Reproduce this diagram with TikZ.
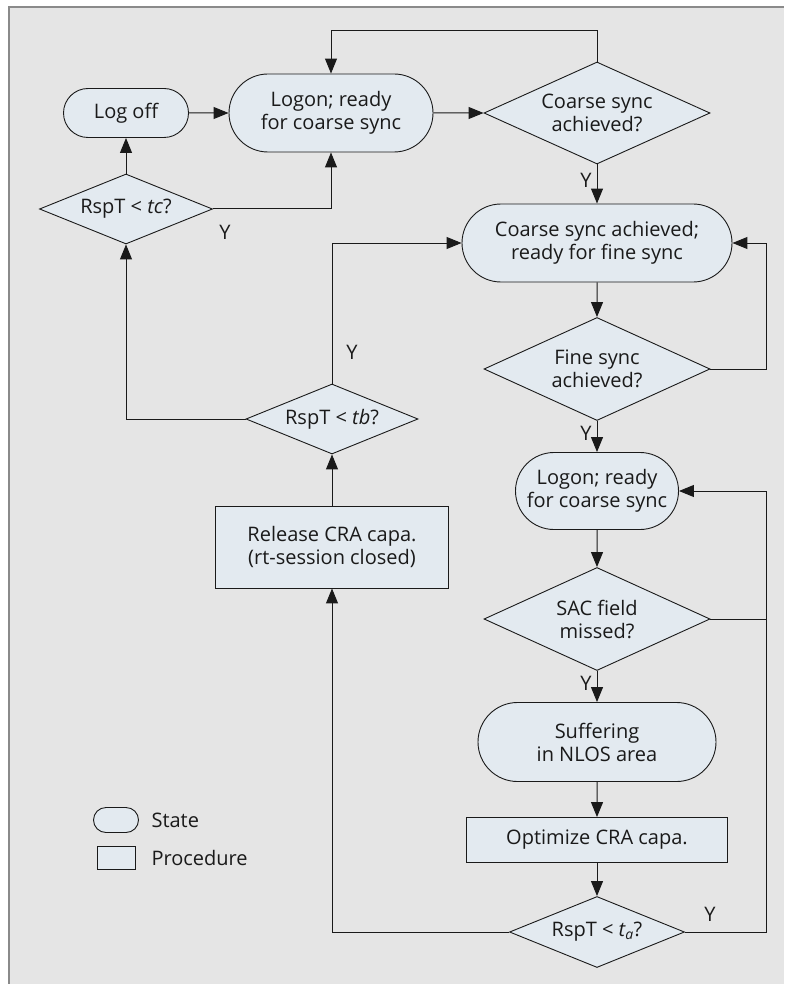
\documentclass[tikz,border=0pt]{standalone}
\usepackage{fontspec}
\setmainfont{Open Sans}
\usepackage{tikz}
\usetikzlibrary{arrows.meta,positioning,shapes.geometric,shapes.misc,calc}
\definecolor{panelgray}{HTML}{E5E5E5}
\definecolor{framegray}{HTML}{8A8A8A}
\definecolor{nodefill}{HTML}{E3EAF0}
\definecolor{inkgray}{HTML}{1A1A1A}
\tikzset{
  statebox/.style={rounded rectangle, draw=inkgray, fill=nodefill, line width=0.9pt, align=center, inner sep=0pt},
  procbox/.style={rectangle, draw=inkgray, fill=nodefill, line width=0.9pt, align=center, inner sep=0pt},
  decbox/.style={diamond, draw=inkgray, fill=nodefill, line width=0.9pt, align=center, inner sep=0pt, aspect=2.2},
  flow/.style={-{Triangle[length=15pt,width=12pt]}, line width=1pt, draw=inkgray},
  link/.style={line width=1pt, draw=inkgray},
  ylab/.style={text=inkgray, inner sep=0pt}
}

\begin{document}
\begin{tikzpicture}[x=1pt, y=-1pt, font=\fontsize{20}{23}\selectfont, text=inkgray]
  \useasboundingbox (0,0) rectangle (784,984);
  % Panel
  \fill[white] (0,0) rectangle (784,984);
  \fill[panelgray] (8,7) rectangle (784,984);
  \draw[framegray, line width=2pt] (8.5,984) -- (8.5,7.5) -- (784,7.5);

  % States and procedures
  \node[statebox, minimum width=125, minimum height=49] (logoff) at (126,113) {Log off};
  \node[statebox, minimum width=204, minimum height=78] (logon1) at (331,113) {Logon; ready\\for coarse sync};
  \node[decbox, minimum width=226, minimum height=102] (coarse) at (597,113) {Coarse sync\\achieved?};
  \node[decbox, aspect=2.5, minimum width=173, minimum height=70] (tc) at (126,209) {RspT < \textit{tc}?};
  \node[statebox, minimum width=270, minimum height=78] (cdone) at (597,243) {Coarse sync achieved;\\ready for fine sync};
  \node[decbox, minimum width=226, minimum height=103] (fine) at (597,369) {Fine sync\\achieved?};
  \node[decbox, aspect=2.5, minimum width=172, minimum height=70] (tb) at (332,419) {RspT < \textit{tb}?};
  \node[statebox, minimum width=163, minimum height=77] (logon2) at (597,491) {Logon; ready\\for coarse sync};
  \node[procbox, minimum width=233, minimum height=82] (release) at (332,547) {Release CRA capa.\\(rt-session closed)};
  \node[decbox, minimum width=226, minimum height=103] (sac) at (597,619) {SAC field\\missed?};
  \node[statebox, minimum width=238, minimum height=79] (nlos) at (597,742) {Suffering\\in NLOS area};
  \node[procbox, minimum width=261, minimum height=45] (optim) at (597,840) {Optimize CRA capa.};
  \node[decbox, aspect=2.5, minimum width=175, minimum height=71] (ta) at (597,932) {RspT < \textit{t\textsubscript{a}}?};

  % Connectors
  \coordinate (topbend) at (331,31);
  \coordinate (rightbend) at (766,932);
  \draw[flow] (logoff) -- (logon1);
  \draw[flow] (logon1) -- (coarse);
  \draw[flow] (coarse.north) |- (topbend) -- (logon1.north);
  \draw[flow] (coarse) -- node[ylab, left=5pt, pos=0.4] {Y} (cdone);
  \draw[flow] (tc) -- (logoff);
  \draw[flow] (tc.east) -| (logon1.south);
  \node[ylab] (ytc) at (225,232) {Y};
  \draw[flow] (cdone) -- (fine);
  \draw[flow] (fine.east) -- (fine.east -| rightbend) |- (cdone.east);
  \draw[flow] (fine) -- node[ylab, left=5pt, pos=0.4] {Y} (logon2);
  \draw[flow] (logon2) -- (sac);
  \draw[link] (sac.east) -- (sac.east -| rightbend);
  \draw[flow] (sac) -- node[ylab, left=5pt, pos=0.4] {Y} (nlos);
  \draw[flow] (nlos) -- (optim);
  \draw[flow] (optim) -- (ta);
  \draw[flow] (ta.east) -- (rightbend) |- (logon2.east);
  \node[ylab] (yta) at (710,914) {Y};
  \draw[flow] (ta.west) -| (release.south);
  \draw[flow] (release) -- (tb);
  \draw[flow] (tb.west) -| (tc.south);
  \draw[flow] (tb.north) |- (cdone.west);
  \node[ylab] (ytb) at (352,352) {Y};

  % Legend
  \node[statebox, minimum width=45, minimum height=25] (lgstate) at (116,820) {};
  \node[anchor=west] (lgstatetxt) at (148,820) {State};
  \node[procbox, minimum width=38, minimum height=23] (lgproc) at (116,858) {};
  \node[anchor=west] (lgproctxt) at (148,858) {Procedure};
\end{tikzpicture}
\end{document}
